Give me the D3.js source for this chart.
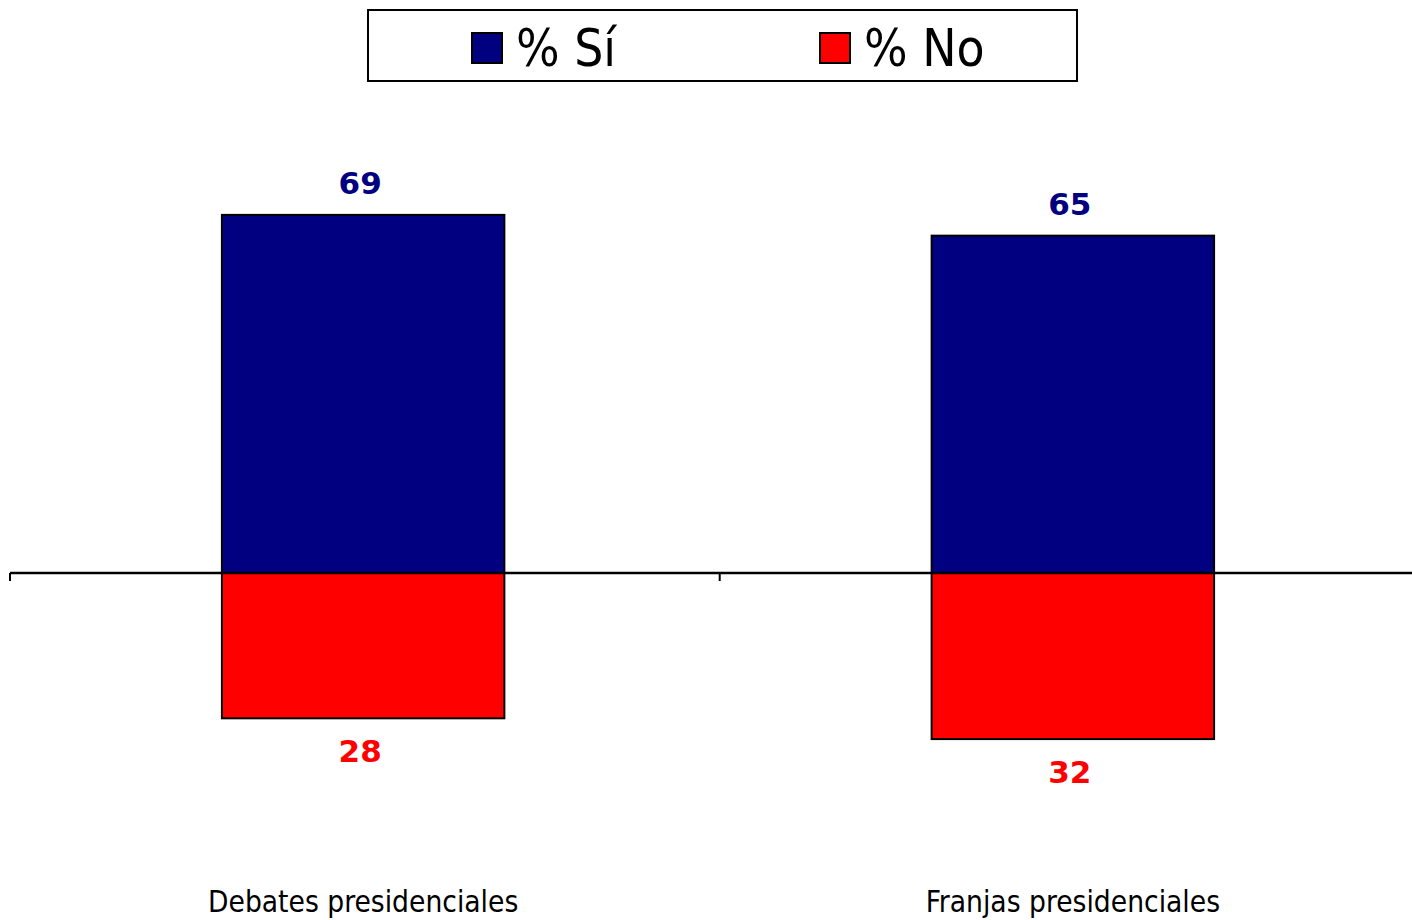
<!DOCTYPE html>
<html><head><meta charset="utf-8">
<script src="https://cdn.jsdelivr.net/npm/d3@7"></script>
<style>html,body{margin:0;padding:0;background:#fff;}svg{display:block;}</style>
</head><body>
<svg id="c" width="1412" height="920"></svg>
<script>
const categories = ["Debates presidenciales", "Franjas presidenciales"];
const seriesNames = ["% Sí", "% No"];
const siValues = [69, 65];
const noValues = [28, 32];
const colors = ["#000080", "#FF0000"];

const svg = d3.select("#c");
const zeroY = 573;
const x = d3.scaleBand().domain(categories).range([9, 1427]).paddingInner(0.602).paddingOuter(0.3);
const y = d3.scaleLinear().domain([-60, 100]).range([zeroY + 60*5.19, zeroY - 100*5.19]);

// bars Sí (up)
svg.selectAll("rect.si").data(categories).join("rect")
  .attr("x", d => x(d)).attr("width", x.bandwidth())
  .attr("y", (d,i) => y(siValues[i])).attr("height", (d,i) => y(0) - y(siValues[i]))
  .attr("fill", colors[0]).attr("stroke", "#000").attr("stroke-width", 2);
// bars No (down)
svg.selectAll("rect.no").data(categories).join("rect")
  .attr("x", d => x(d)).attr("width", x.bandwidth())
  .attr("y", y(0)).attr("height", (d,i) => y(-noValues[i]) - y(0))
  .attr("fill", colors[1]).attr("stroke", "#000").attr("stroke-width", 2);

// axis
const axisG = svg.append("g").attr("transform", `translate(0,${y(0)})`);
axisG.append("line").attr("x1", 10).attr("x2", 1412).attr("y1", 0).attr("y2", 0)
  .attr("stroke", "#000").attr("stroke-width", 2.5);
[10, 10 + x.step()].forEach(t => {
  axisG.append("line").attr("x1", t).attr("x2", t).attr("y1", 0).attr("y2", 8)
    .attr("stroke", "#000").attr("stroke-width", 2);
});

// value labels
svg.selectAll("text.si").data(categories).join("text")
  .attr("x", d => x(d) + x.bandwidth()/2 - 3).attr("y", (d,i) => y(siValues[i]) - 21)
  .attr("text-anchor", "middle").attr("fill", colors[0])
  .attr("font-family", "DejaVu Sans").attr("font-weight", "bold").attr("font-size", 31)
  .text((d,i) => siValues[i]);
svg.selectAll("text.no").data(categories).join("text")
  .attr("x", d => x(d) + x.bandwidth()/2 - 3).attr("y", (d,i) => y(-noValues[i]) + 44)
  .attr("text-anchor", "middle").attr("fill", colors[1])
  .attr("font-family", "DejaVu Sans").attr("font-weight", "bold").attr("font-size", 31)
  .text((d,i) => noValues[i]);

// category labels
svg.selectAll("text.cat").data(categories).join("text")
  .attr("x", d => x(d) + x.bandwidth()/2).attr("y", 912)
  .attr("text-anchor", "middle").attr("fill", "#000")
  .attr("font-family", "DejaVu Sans Condensed, DejaVu Sans").attr("font-size", 29.6)
  .text(d => d);

// legend
const lg = svg.append("g");
lg.append("rect").attr("x", 368).attr("y", 10).attr("width", 709).attr("height", 71)
  .attr("fill", "#fff").attr("stroke", "#000").attr("stroke-width", 2);
const legX = [472, 820];
seriesNames.forEach((s, i) => {
  lg.append("rect").attr("x", legX[i]).attr("y", 33).attr("width", 30).attr("height", 30)
    .attr("fill", colors[i]).attr("stroke", "#000").attr("stroke-width", 2);
  lg.append("text").attr("x", legX[i] + 44).attr("y", 66)
    .attr("font-family", "DejaVu Sans Condensed, DejaVu Sans").attr("font-size", 51)
    .attr("fill", "#000").text(s);
});
</script>
</body></html>
